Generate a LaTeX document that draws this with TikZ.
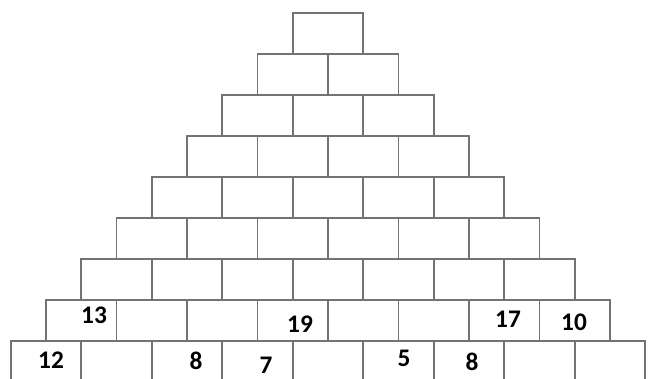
\documentclass[tikz,border=0pt]{standalone}
\usepackage{fontspec}
\newfontfamily\numfont{Carlito}
\begin{document}
\begin{tikzpicture}[x=0.75pt, y=-0.75pt,
		brick/.style={draw=black!55, line width=1.4pt, anchor=north west, inner sep=0pt, minimum width=52.875pt, minimum height=30.75pt},
		given/.style={font=\numfont\bfseries\fontsize{19}{21}\selectfont, inner sep=0pt}]
		\clip (0, 0) rectangle (651, 379);
		% bricks, row by row from the top, each row half a brick wider on both sides
		\foreach \r in {1,...,9}
			\foreach \c in {1,...,\r}
				\node[brick] (b\r-\c) at ({327-\r*35.25+(\c-1)*70.5}, {12+(\r-1)*41}) {};
		% numbers that are given
		\foreach \x/\y/\n/\name in {94/315/13/a, 300/324/19/b, 508/319/17/c, 574/322/10/d, 51/360/12/e, 196/361/8/f, 266/365/7/g, 404/358/5/h, 472/362/8/i}
			\node[given] (n-\name) at (\x, \y) {\n};
	\end{tikzpicture}
\end{document}
